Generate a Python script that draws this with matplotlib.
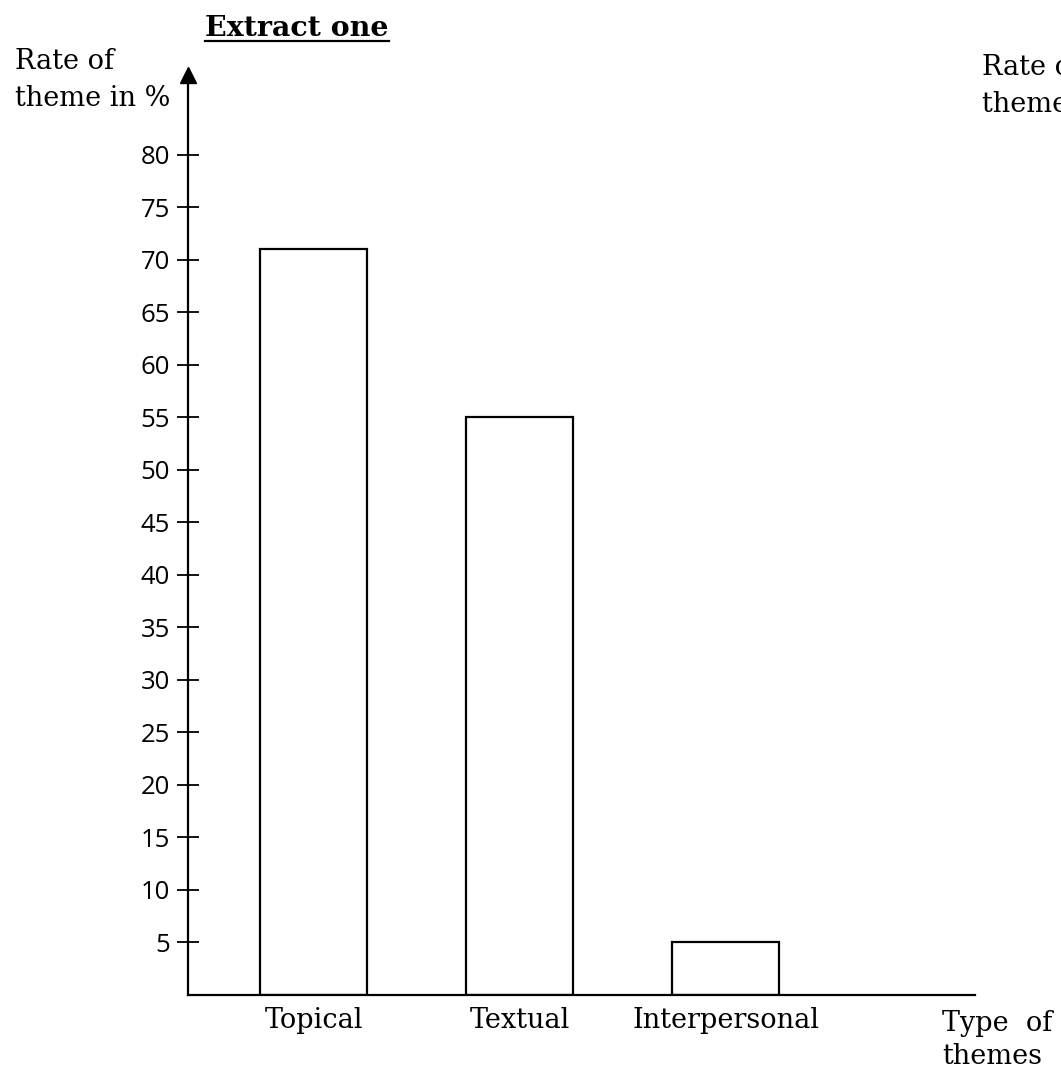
import matplotlib
matplotlib.use("Agg")
import matplotlib.pyplot as plt
from matplotlib.lines import Line2D

# ---- data ----
categories = ["Topical", "Textual", "Interpersonal"]
rates = [71, 55, 5]
ytick_values = [5, 10, 15, 20, 25, 30, 35, 40, 45, 50, 55, 60, 65, 70, 75, 80]
ytick_labels = [str(v) for v in ytick_values]

SERIF = "DejaVu Serif"
SANS = "Open Sans"

fig = plt.figure(figsize=(10.61, 10.77), dpi=100)
ax = fig.add_axes([188 / 1061, 82 / 1077, 787 / 1061, 920 / 1077])

x = list(range(len(categories)))
ax.bar(x, rates, width=0.52, facecolor="white", edgecolor="black", linewidth=1.6, zorder=2)

ax.set_xlim(-0.61, 3.21)
ax.set_ylim(0, 87.6)

for s in ["top", "right"]:
    ax.spines[s].set_visible(False)
for s in ["left", "bottom"]:
    ax.spines[s].set_linewidth(1.6)

# y ticks crossing the axis
ax.set_yticks(ytick_values)
ax.set_yticklabels(ytick_labels, fontfamily=SANS, fontsize=18.5)
ax.tick_params(axis="y", direction="inout", length=16, width=1.3, pad=5)

# x category labels, no tick marks
ax.set_xticks(x)
ax.set_xticklabels(categories, fontfamily=SERIF, fontsize=19.5)
ax.tick_params(axis="x", length=0, pad=9)

# arrow head on y axis
ax.plot([-0.61], [87.6], marker="^", markersize=12, color="black", clip_on=False, zorder=5)

# axis titles
fig.text(15 / 1061, 1 - 48 / 1077, "Rate of\ntheme in %", fontfamily=SERIF, fontsize=19.5,
         ha="left", va="top", linespacing=1.5)
fig.text(982 / 1061, 1 - 54 / 1077, "Rate of\ntheme in %", fontfamily=SERIF, fontsize=19.5,
         ha="left", va="top", linespacing=1.5)
fig.text(942 / 1061, 1 - 1010 / 1077, "Type  of\nthemes", fontfamily=SERIF, fontsize=19.5,
         ha="left", va="top", linespacing=1.3)

# title with underline
title = fig.text(205 / 1061, 1 - 36 / 1077, "Extract one", fontfamily=SERIF, fontsize=20.5,
                 fontweight="bold", ha="left", va="baseline")
fig.canvas.draw()
bb = title.get_window_extent()
uy = 1 - 41 / 1077
fig.add_artist(Line2D([bb.x0 / fig.bbox.width, bb.x1 / fig.bbox.width], [uy, uy],
                      transform=fig.transFigure, color="black", linewidth=1.6))

fig.savefig("out.png", dpi=100, facecolor="white")
